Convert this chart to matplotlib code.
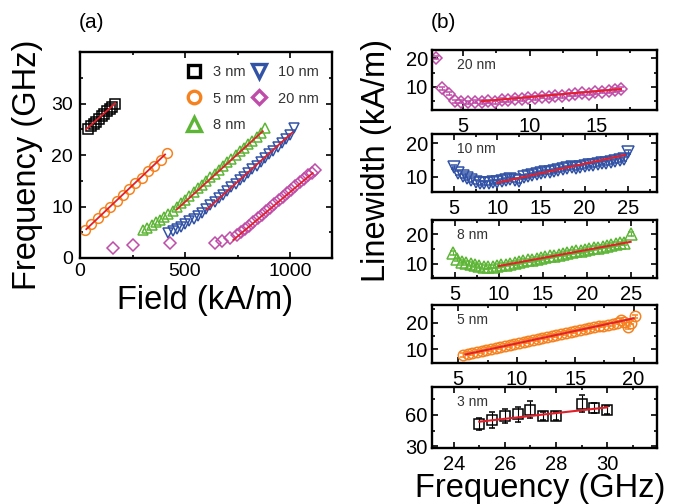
#!/usr/bin/env python
import numpy as np
import matplotlib as mpl; mpl.use("Agg")
import matplotlib.pyplot as plt
from matplotlib.lines import Line2D
from matplotlib.ticker import MultipleLocator

plt.rcParams["font.family"] = ["Liberation Sans", "DejaVu Sans"]

# Colours
# ------------------------------------------------------------------------------
c3, c5, c8, c10, c20 = "black", "#f5821f", "#5db536", "#3252a6", "#c04ca9"
cfit = "#e3202a"

# Panel (a): frequency vs field
# ------------------------------------------------------------------------------
field3 = [40, 53, 65, 78, 91, 103, 116, 129, 141, 154, 167]
freq3 = [25.1, 25.6, 26.0, 26.5, 27.0, 27.5, 28.0, 28.5, 28.9, 29.4, 29.9]
fit3_field, fit3_freq = [29, 167], [25.0, 30.0]

field5 = [24, 54, 84, 114, 144, 174, 204, 234, 264, 294, 324, 354, 384, 413]
freq5 = [5.4, 6.6, 7.8, 8.9, 10.0, 11.1, 12.3, 13.4, 14.5, 15.6, 16.8, 17.9, 19.1, 20.4]
fit5_field, fit5_freq = [30, 405], [5.6, 20.1]

field8 = [301, 321, 341, 361, 381, 401, 421, 441, 461, 481, 501, 521, 541, 561, 581,
          601, 621, 641, 661, 681, 701, 721, 741, 761, 781, 801, 821, 841, 861, 881]
freq8 = [5.4, 5.9, 6.4, 6.9, 7.4, 7.9, 8.5, 9.2, 9.9, 10.6, 11.3, 12.0, 12.8, 13.5, 14.2,
         14.9, 15.7, 16.4, 17.1, 17.8, 18.6, 19.3, 20.0, 20.7, 21.4, 22.1, 22.8, 23.5, 24.3, 25.3]
fit8_field, fit8_freq = [460, 870], [9.4, 24.6]

field10 = [421, 441, 461, 481, 501, 521, 541, 561, 581, 601, 621, 641, 661, 681, 701, 721,
           741, 761, 781, 801, 821, 841, 861, 881, 901, 921, 941, 961, 981, 1001, 1021]
freq10 = [4.8, 5.2, 5.6, 6.1, 6.6, 7.1, 7.6, 8.2, 8.8, 9.5, 10.2, 10.9, 11.6, 12.3, 13.0, 13.7,
          14.4, 15.1, 15.8, 16.5, 17.2, 17.9, 18.7, 19.4, 20.1, 20.8, 21.6, 22.3, 23.1, 23.9, 25.3]
fit10_field, fit10_freq = [603, 1012], [9.4, 24.4]

field20 = [159, 254, 429, 643, 675, 714, 746, 766, 786, 806, 826, 846, 866, 886, 906, 926,
           946, 966, 986, 1006, 1026, 1046, 1066, 1086, 1106, 1119]
freq20 = [1.9, 2.5, 3.0, 3.0, 3.3, 3.8, 4.4, 5.0, 5.6, 6.3, 7.0, 7.7, 8.4, 9.1, 9.8, 10.5,
          11.2, 11.9, 12.6, 13.3, 14.0, 14.7, 15.4, 16.1, 16.6, 17.0]
fit20_field, fit20_freq = [730, 1108], [3.5, 16.5]

# Panel (b): linewidth vs frequency
# ------------------------------------------------------------------------------
lf20 = [3.0, 3.45, 4.0, 4.4, 4.9, 5.4, 5.9, 6.4, 6.9, 7.4, 7.9, 8.4, 8.9, 9.4, 9.9,
        10.4, 10.9, 11.4, 11.9, 12.4, 12.9, 13.4, 13.9, 14.4, 14.9, 15.4, 15.9, 16.4, 16.8]
lw20 = [20.3, 9.4, 7.6, 4.9, 4.7, 4.5, 4.8, 4.6, 4.9, 4.5, 5.4, 5.2, 5.8, 5.6, 6.2,
        6.0, 6.5, 6.4, 6.9, 6.8, 7.2, 7.3, 7.7, 7.6, 8.0, 8.3, 8.4, 8.9, 9.2]
fitb20_f, fitb20_w = [6.4, 16.8], [4.9, 9.2]

lf10 = [5.0, 5.5, 6.0, 6.5, 7.0, 7.5, 8.0, 8.5, 9.0, 9.5, 10.0, 10.5, 11.0, 11.5, 12.0,
        12.5, 13.0, 13.5, 14.0, 14.5, 15.0, 15.5, 16.0, 16.5, 17.0, 17.5, 18.0, 18.5, 19.0,
        19.5, 20.0, 20.5, 21.0, 21.5, 22.0, 22.5, 23.0, 23.5, 24.0, 24.5, 25.0]
lw10 = [13.0, 11.0, 10.2, 9.5, 9.0, 8.5, 8.2, 8.0, 8.2, 8.3, 8.5, 8.8, 9.0, 9.3, 9.0,
        8.8, 9.8, 10.2, 10.5, 10.8, 11.0, 11.3, 11.5, 11.8, 12.0, 12.3, 12.5, 12.8, 12.7,
        13.0, 13.2, 13.5, 13.4, 13.8, 14.0, 14.2, 14.5, 14.8, 15.0, 15.2, 17.5]
fitb10_f, fitb10_w = [10.0, 24.6], [8.2, 16.5]

lf8 = [4.8, 5.3, 5.8, 6.3, 6.8, 7.3, 7.8, 8.3, 8.8, 9.3, 9.8, 10.3, 10.8, 11.3, 11.8,
       12.3, 12.8, 13.3, 13.8, 14.3, 14.8, 15.3, 15.8, 16.3, 16.8, 17.3, 17.8, 18.3, 18.8,
       19.3, 19.8, 20.3, 20.8, 21.3, 21.8, 22.3, 22.8, 23.3, 23.8, 24.3, 25.0]
lw8 = [13.6, 11.5, 10.8, 10.3, 10.0, 9.6, 9.3, 9.0, 9.0, 9.1, 9.3, 9.6, 9.8, 10.1, 10.4,
       10.6, 10.9, 11.2, 11.4, 11.7, 12.0, 12.3, 12.5, 12.8, 13.1, 13.4, 13.6, 13.9, 14.2,
       14.4, 14.7, 15.0, 15.3, 15.5, 15.8, 16.1, 16.4, 16.6, 16.9, 17.1, 20.0]
fitb8_f, fitb8_w = [10.0, 25.0], [9.3, 17.4]

lf5 = [5.4, 5.8, 6.2, 6.6, 7.0, 7.4, 7.8, 8.2, 8.6, 9.0, 9.4, 9.8, 10.2, 10.6, 11.0,
       11.4, 11.8, 12.2, 12.6, 13.0, 13.4, 13.8, 14.2, 14.6, 15.0, 15.4, 15.8, 16.2, 16.6,
       17.0, 17.4, 17.8, 18.2, 18.6, 18.9, 19.2, 19.5, 19.8, 20.1]
lw5 = [7.9, 8.4, 8.6, 9.1, 9.3, 9.9, 10.1, 10.6, 10.8, 11.4, 11.5, 12.1, 12.3, 12.9, 13.1,
       13.6, 13.8, 14.4, 14.6, 15.1, 15.3, 15.9, 16.1, 16.6, 16.8, 17.4, 17.5, 18.1, 18.3,
       18.8, 18.9, 19.3, 19.4, 20.0, 21.0, 20.4, 18.2, 20.0, 22.3]
fitb5_f, fitb5_w = [5.6, 20.0], [8.1, 21.6]

lf3 = [25.0, 25.5, 26.0, 26.5, 27.0, 27.5, 28.0, 29.0, 29.5, 30.0]
lw3 = [51.5, 55.3, 59.0, 60.6, 65.0, 59.0, 59.3, 71.0, 66.7, 65.0]
err3 = [6, 8, 7, 7, 8, 4, 4, 8, 5, 4]
fitb3_f, fitb3_w = [25.0, 30.0], [53.6, 67.3]


def style(ax, size):
    ax.tick_params(which="both", direction="in", top=True, right=True,
                   labelsize=size, width=1.2, colors="black")
    ax.tick_params(which="major", length=4)
    ax.tick_params(which="minor", length=2.5)
    for s in ax.spines.values():
        s.set_linewidth(1.7)


def main():
    fig = plt.figure(figsize=(6.97, 5.04), dpi=100)
    W, H = 697.0, 504.0

    # ---- panel (a)
    ax = fig.add_axes([80 / W, 1 - 258 / H, 252 / W, 206 / H])
    kw = dict(ls="none", mfc="none", mew=1.1)
    ax.plot(field3, freq3, marker="s", ms=6.5, mec=c3, **kw)
    ax.plot(field5, freq5, marker="o", ms=7, mec=c5, **kw)
    ax.plot(field8, freq8, marker="^", ms=7.5, mec=c8, **kw)
    ax.plot(field10, freq10, marker="v", ms=7.5, mec=c10, **kw)
    ax.plot(field20, freq20, marker="D", ms=6, mec=c20, **kw)
    for fx, fy in [(fit3_field, fit3_freq), (fit5_field, fit5_freq), (fit8_field, fit8_freq),
                   (fit10_field, fit10_freq), (fit20_field, fit20_freq)]:
        ax.plot(fx, fy, color=cfit, lw=1.3)
    ax.set_xlim(0, 1200)
    ax.set_ylim(0, 40)
    ax.xaxis.set_major_locator(MultipleLocator(500))
    ax.xaxis.set_minor_locator(MultipleLocator(250))
    ax.set_yticks([0, 10, 20, 30])
    ax.yaxis.set_minor_locator(MultipleLocator(5))
    style(ax, 14)
    ax.tick_params(axis="y", pad=5)

    handles = [Line2D([], [], ls="none", marker=m, ms=ms, mfc="none", mec=c, mew=2.4)
               for m, c, ms in [("s", c3, 8), ("o", c5, 9), ("^", c8, 9.5),
                                ("v", c10, 9.5), ("D", c20, 7.5)]]
    ax.legend(handles, ["3 nm", "5 nm", "8 nm", "10 nm", "20 nm"], ncol=2, loc="upper right",
              frameon=False, fontsize=10.5, handlelength=1.0, handletextpad=0.8,
              columnspacing=0.4, labelspacing=0.85, labelcolor="#333333")

    fig.text(28 / W, 1 - 165 / H, "Frequency (GHz)", rotation=90, fontsize=23.5,
             ha="center", va="center")
    fig.text(205 / W, 1 - 300 / H, "Field (kA/m)", fontsize=23.5, ha="center", va="center")
    fig.text(91 / W, 1 - 22 / H, "(a)", fontsize=15, ha="center", va="center")
    fig.text(443 / W, 1 - 22 / H, "(b)", fontsize=15, ha="center", va="center")

    # ---- panel (b)
    boxes = [(50, 110), (134, 192), (220, 278), (305, 363), (387, 448)]
    series = [
        (lf20, lw20, None, "D", 6.5, c20, fitb20_f, fitb20_w, (2.7, 19.5), (1.8, 23),
         [5, 10, 15], [10, 20], "20 nm"),
        (lf10, lw10, None, "v", 8, c10, fitb10_f, fitb10_w, (2.5, 28.3), (5.4, 22.8),
         [5, 10, 15, 20, 25], [10, 20], "10 nm"),
        (lf8, lw8, None, "^", 8, c8, fitb8_f, fitb8_w, (2.4, 28.0), (5.3, 24.7),
         [5, 10, 15, 20, 25], [10, 20], "8 nm"),
        (lf5, lw5, None, "o", 7.5, c5, fitb5_f, fitb5_w, (2.75, 22.0), (4.9, 26.6),
         [5, 10, 15, 20], [10, 20], "5 nm"),
        (lf3, lw3, err3, "s", 7, c3, fitb3_f, fitb3_w, (23.15, 31.95), (28.4, 86.8),
         [24, 26, 28, 30], [30, 60], "3 nm"),
    ]
    for (top, bot), (fx, fy, fe, m, ms, c, ffx, ffy, xl, yl, xt, yt, lab) in zip(boxes, series):
        bx = fig.add_axes([432 / W, 1 - bot / H, 225 / W, (bot - top) / H])
        err = fe if fe is not None else 0.6
        bx.errorbar(fx, fy, yerr=err, ls="none", marker=m, ms=ms, mfc="none", mec=c,
                    mew=1.1, ecolor=c, elinewidth=0.8, capsize=2)
        bx.plot(ffx, ffy, color=cfit, lw=1.5, zorder=5)
        bx.set_xlim(*xl)
        bx.set_ylim(*yl)
        bx.set_xticks(xt)
        bx.set_yticks(yt)
        bx.xaxis.set_minor_locator(MultipleLocator((xt[1] - xt[0]) / 2))
        bx.yaxis.set_minor_locator(MultipleLocator((yt[1] - yt[0]) / 2))
        style(bx, 14.5)
        bx.tick_params(axis="x", pad=5)
        bx.tick_params(axis="y", pad=3)
        bx.annotate(lab, xy=(0, 1), xycoords="axes fraction", xytext=(25, -15),
                    textcoords="offset pixels", fontsize=10, color="#333333",
                    ha="left", va="center")

    fig.text(376 / W, 1 - 161 / H, "Linewidth (kA/m)", rotation=90, fontsize=23.5,
             ha="center", va="center")
    fig.text(540 / W, 1 - 489 / H, "Frequency (GHz)", fontsize=23.5, ha="center", va="center")

    fig.savefig("out.png", dpi=100)


if __name__ == "__main__":
    main()
